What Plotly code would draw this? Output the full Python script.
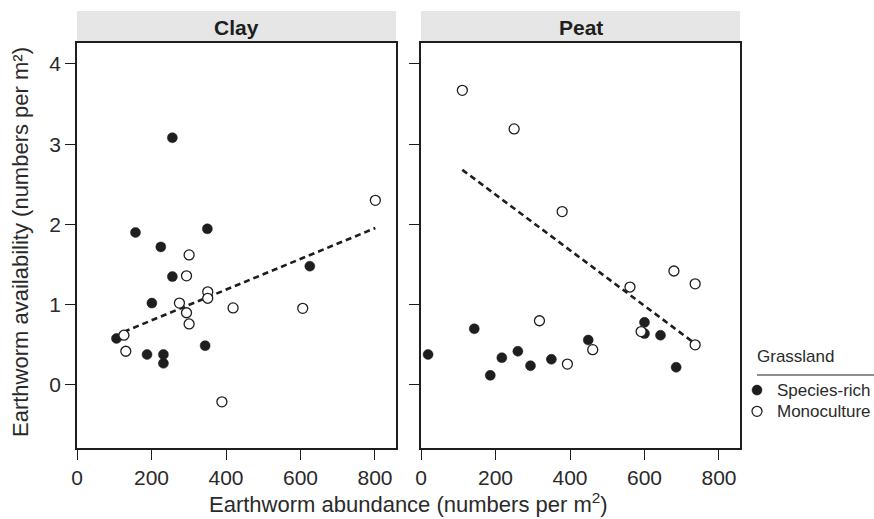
import plotly.graph_objects as go

# ---------------- data ----------------
panels = ["Clay", "Peat"]

clay_rich_x = [256, 157, 350, 225, 256, 201, 625, 106, 188, 232, 232, 344]
clay_rich_y = [3.08, 1.90, 1.945, 1.72, 1.35, 1.02, 1.48, 0.58, 0.38, 0.38, 0.27, 0.49]
clay_mono_x = [801, 301, 294, 351, 351, 275, 419, 606, 294, 301, 126, 131, 389]
clay_mono_y = [2.30, 1.62, 1.36, 1.16, 1.08, 1.02, 0.96, 0.955, 0.90, 0.76, 0.62, 0.42, -0.21]
clay_fit_x = [126, 801]
clay_fit_y = [0.663, 1.955]

peat_rich_x = [19, 143, 217, 260, 186, 294, 350, 449, 600, 600, 643, 685]
peat_rich_y = [0.38, 0.70, 0.34, 0.42, 0.12, 0.24, 0.32, 0.56, 0.78, 0.64, 0.62, 0.22]
peat_mono_x = [111, 250, 379, 679, 736, 561, 318, 591, 461, 736, 393]
peat_mono_y = [3.67, 3.19, 2.16, 1.42, 1.26, 1.22, 0.80, 0.665, 0.44, 0.50, 0.26]
peat_fit_x = [111, 736]
peat_fit_y = [2.68, 0.515]

x_ticks = [0, 200, 400, 600, 800]
y_ticks = [0, 1, 2, 3, 4]

legend_title = "Grassland"
group_names = ["Species-rich", "Monoculture"]

# ---------------- figure ----------------
FONT = "Liberation Sans, Arial, Helvetica, sans-serif"
INK = "#1e1e1e"
TXT = "#2a2a2a"
W, H = 874, 519
ML, MR, MT, MB = 77, 134, 43, 71
PW = W - ML - MR
PH = H - MT - MB
LEG_FS = 17


def legend_label(s):
    return '<span style="font-size:%spx">%s</span>' % (LEG_FS, s)


fig = go.Figure()

data = [
    (clay_rich_x, clay_rich_y, clay_mono_x, clay_mono_y, clay_fit_x, clay_fit_y, "x", "y"),
    (peat_rich_x, peat_rich_y, peat_mono_x, peat_mono_y, peat_fit_x, peat_fit_y, "x2", "y2"),
]

for i, (rx, ry, mx, my, fx, fy, xa, ya) in enumerate(data):
    fig.add_trace(go.Scatter(
        x=fx, y=fy, mode="lines", xaxis=xa, yaxis=ya, showlegend=False,
        line=dict(color=INK, width=2.6, dash="6px,4px"), hoverinfo="skip"))
    fig.add_trace(go.Scatter(
        x=rx, y=ry, mode="markers", xaxis=xa, yaxis=ya, name=legend_label(group_names[0]),
        legendgroup="g", showlegend=(i == 0),
        marker=dict(symbol="circle", size=10, color=INK, line=dict(color=INK, width=0.5))))
    fig.add_trace(go.Scatter(
        x=mx, y=my, mode="markers", xaxis=xa, yaxis=ya, name=legend_label(group_names[1]),
        legendgroup="g", showlegend=(i == 0),
        marker=dict(symbol="circle", size=10, color="white", line=dict(color=INK, width=1.3))))

gap = (421 - 396) / PW
half = (1 - gap) / 2
axis_common = dict(
    showgrid=False, zeroline=False, showline=True, mirror=True,
    linecolor=INK, linewidth=1.5, ticks="outside", ticklen=10, tickwidth=1.3,
    tickcolor=INK, tickfont=dict(family=FONT, size=21, color=TXT),
    automargin=False,
)
fig.update_layout(
    xaxis=dict(domain=[0, half], range=[0, 856.4], tickvals=x_ticks, anchor="y", **axis_common),
    xaxis2=dict(domain=[1 - half, 1], range=[0, 856.4], tickvals=x_ticks, anchor="y2", **axis_common),
    yaxis=dict(domain=[0, 1], range=[-0.785, 4.26], tickvals=y_ticks, anchor="x", **axis_common),
    yaxis2=dict(domain=[0, 1], range=[-0.785, 4.26], tickvals=y_ticks, anchor="x2",
                showticklabels=False, **axis_common),
)

# strips and panel titles
strip_h = 32 / PH
for i, (name, xd, yd) in enumerate([(panels[0], "x domain", "y domain"), (panels[1], "x2 domain", "y2 domain")]):
    fig.add_shape(type="rect", xref=xd, yref=yd, x0=0, x1=1, y0=1, y1=1 + strip_h,
                  fillcolor="#e6e6e6", line=dict(width=0), layer="below")
    fig.add_annotation(xref=xd, yref=yd, x=0.5, y=1 + strip_h / 2, text="<b>%s</b>" % name,
                       showarrow=False, xanchor="center", yanchor="middle",
                       font=dict(family=FONT, size=21, color=INK))

# axis titles
fig.add_annotation(xref="paper", yref="paper", x=(408.5 - ML) / PW, y=(MT + PH - 503) / PH,
                   text="Earthworm abundance (numbers per m<sup>2</sup>)", showarrow=False,
                   xanchor="center", yanchor="middle", font=dict(family=FONT, size=22, color=TXT))
fig.add_annotation(xref="paper", yref="paper", x=(20 - ML) / PW, y=(MT + PH - 242) / PH,
                   text="Earthworm availability (numbers per m²)", showarrow=False, textangle=-90,
                   xanchor="center", yanchor="middle", font=dict(family=FONT, size=22, color=TXT))

# legend title + rule
fig.add_annotation(xref="paper", yref="paper", x=(755 - ML) / PW, y=(MT + PH - 356) / PH,
                   text=legend_title, showarrow=False, xanchor="left", yanchor="middle",
                   font=dict(family=FONT, size=LEG_FS, color=TXT))
fig.add_shape(type="line", xref="paper", yref="paper",
              x0=(757 - ML) / PW, x1=(874 - ML) / PW,
              y0=(MT + PH - 375) / PH, y1=(MT + PH - 375) / PH,
              line=dict(color=INK, width=1.2))

fig.update_layout(
    width=W, height=H,
    margin=dict(l=ML, r=MR, t=MT, b=MB, pad=0, autoexpand=False),
    paper_bgcolor="white", plot_bgcolor="white",
    showlegend=True,
    legend=dict(x=(737 - ML) / PW, xanchor="left", y=(MT + PH - 374.5) / PH, yanchor="top",
                font=dict(family=FONT, size=14, color=TXT), tracegroupgap=0,
                bgcolor="rgba(0,0,0,0)", itemwidth=30, borderwidth=0),
    font=dict(family=FONT, color=INK),
)

fig.write_html("out.html", config={"displayModeBar": False},
               post_script="document.body.style.margin='0';document.body.style.overflow='hidden';")
